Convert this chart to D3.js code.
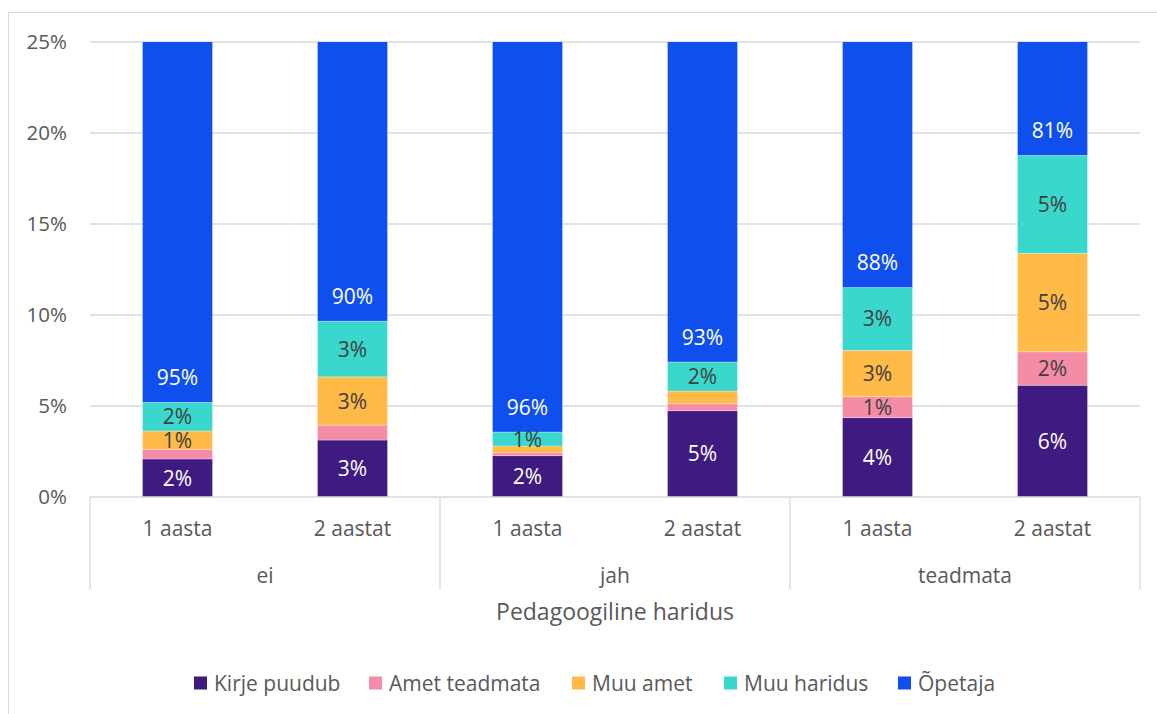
<!DOCTYPE html>
<html>
<head>
<meta charset="utf-8">
<script src="https://cdn.jsdelivr.net/npm/d3@7"></script>
<style>
  body { margin: 0; background: #fff; }
  text { font-family: "Open Sans", sans-serif; }
</style>
</head>
<body>
<svg id="chart"></svg>
<script>
const width = 1157;
const height = 714;

// Data (shares of 1)
const groups = ["ei", "jah", "teadmata"];
const subgroups = ["1 aasta", "2 aastat"];
const seriesNames = ["Kirje puudub", "Amet teadmata", "Muu amet", "Muu haridus", "Õpetaja"];
const kirjePuudub = [0.0209, 0.0313, 0.0227, 0.0474, 0.0436, 0.0614];
const ametTeadmata = [0.0053, 0.0082, 0.0016, 0.0038, 0.0115, 0.0184];
const muuAmet = [0.0101, 0.0265, 0.0037, 0.0070, 0.0255, 0.0541];
const muuHaridus = [0.0157, 0.0306, 0.0077, 0.0160, 0.0345, 0.0538];
const opetaja = [0.9480, 0.9033, 0.9643, 0.9258, 0.8849, 0.8123];
const yTicks = [0, 0.05, 0.10, 0.15, 0.20, 0.25];
// labels that are not shown in the original: [series index, bar index]
const hiddenLabels = [[1, 0], [1, 1], [1, 2], [1, 3], [2, 2], [2, 3]];

const colors = ["#3f1a80", "#f48ca8", "#ffba47", "#3ad8cc", "#0f4fee"];
const labelColors = ["#ffffff", "#404040", "#404040", "#404040", "#ffffff"];

const seriesValues = [kirjePuudub, ametTeadmata, muuAmet, muuHaridus, opetaja];
const bars = [];
groups.forEach((g) => subgroups.forEach((s) => bars.push({ group: g, sub: s })));
const rows = bars.map((b, i) => {
	const row = { id: i, group: b.group, sub: b.sub };
	seriesNames.forEach((name, k) => (row[name] = seriesValues[k][i]));
	return row;
});
const stacked = d3.stack().keys(seriesNames)(rows);

const plot = { left: 90, right: 1140, top: 42, bottom: 497 };
const fontSize = 21;

const svg = d3.select("#chart").attr("width", width).attr("height", height);

// chart area border (runs past the right and bottom edge in the original)
svg.append("rect")
	.attr("x", 8.5).attr("y", 12.5)
	.attr("width", 1200).attr("height", 800)
	.attr("fill", "#fff").attr("stroke", "#d9d9d9");

const x = d3.scaleBand()
	.domain(rows.map((d) => d.id))
	.range([plot.left, plot.right])
	.paddingInner(0.6)
	.paddingOuter(0.3);

const xGroup = d3.scaleBand().domain(groups).range([plot.left, plot.right]);

const y = d3.scaleLinear().domain([0, 0.25]).range([plot.bottom, plot.top]);

// gridlines
svg.append("g")
	.selectAll("line")
	.data(yTicks.slice(1))
	.join("line")
	.attr("x1", plot.left).attr("x2", plot.right)
	.attr("y1", (d) => y(d)).attr("y2", (d) => y(d))
	.attr("stroke", "#d9d9d9").attr("stroke-width", 1.3);

// y tick labels
svg.append("g")
	.selectAll("text")
	.data(yTicks)
	.join("text")
	.attr("x", 67)
	.attr("y", (d) => y(d))
	.attr("dy", "0.36em")
	.attr("text-anchor", "end")
	.attr("font-size", 20.5)
	.attr("fill", "#595959")
	.text((d) => d3.format(".0%")(d));

// bars, clipped at 25 %
svg.append("clipPath").attr("id", "clip")
	.append("rect")
	.attr("x", plot.left).attr("y", plot.top)
	.attr("width", plot.right - plot.left).attr("height", plot.bottom - plot.top);

const layers = svg.append("g").attr("clip-path", "url(#clip)")
	.selectAll("g")
	.data(stacked)
	.join("g")
	.attr("fill", (d, i) => colors[i]);

layers.selectAll("rect")
	.data((d) => d)
	.join("rect")
	.attr("x", (d) => x(d.data.id))
	.attr("width", x.bandwidth())
	.attr("y", (d) => y(d[1]))
	.attr("height", (d) => y(d[0]) - y(d[1]))
	.attr("stroke", "#ffffff").attr("stroke-opacity", 0.35).attr("stroke-width", 0.8);

// data labels
const isHidden = (k, i) => hiddenLabels.some(([a, b]) => a === k && b === i);
const labelData = [];
stacked.forEach((layer, k) => {
	layer.forEach((d, i) => {
		if (isHidden(k, i)) return;
		const top = Math.min(d[1], y.domain()[1]);
		let cy = (y(d[0]) + y(top)) / 2;
		if (d[1] > y.domain()[1]) cy = y(d[0]) - 25;
		labelData.push({ k, cx: x(d.data.id) + x.bandwidth() / 2, cy, v: d[1] - d[0] });
	});
});

svg.append("g")
	.selectAll("text")
	.data(labelData)
	.join("text")
	.attr("x", (d) => d.cx)
	.attr("y", (d) => d.cy)
	.attr("dy", "0.36em")
	.attr("text-anchor", "middle")
	.attr("font-size", fontSize)
	.attr("fill", (d) => labelColors[d.k])
	.text((d) => d3.format(".0%")(d.v));

// category axis
svg.append("line")
	.attr("x1", plot.left).attr("x2", plot.right)
	.attr("y1", plot.bottom).attr("y2", plot.bottom)
	.attr("stroke", "#d9d9d9").attr("stroke-width", 1.3);

const sepX = groups.map((g) => xGroup(g)).concat([plot.right]);
svg.append("g")
	.selectAll("line")
	.data(sepX)
	.join("line")
	.attr("x1", (d) => d).attr("x2", (d) => d)
	.attr("y1", plot.bottom).attr("y2", 590)
	.attr("stroke", "#d9d9d9").attr("stroke-width", 1.3);

svg.append("g")
	.selectAll("text")
	.data(rows)
	.join("text")
	.attr("x", (d) => x(d.id) + x.bandwidth() / 2)
	.attr("y", 528)
	.attr("dy", "0.36em")
	.attr("text-anchor", "middle")
	.attr("font-size", fontSize)
	.attr("fill", "#595959")
	.text((d) => d.sub);

svg.append("g")
	.selectAll("text")
	.data(groups)
	.join("text")
	.attr("x", (d) => xGroup(d) + xGroup.bandwidth() / 2)
	.attr("y", 575)
	.attr("dy", "0.36em")
	.attr("text-anchor", "middle")
	.attr("font-size", fontSize)
	.attr("fill", "#595959")
	.text((d) => d);

svg.append("text")
	.attr("x", (plot.left + plot.right) / 2)
	.attr("y", 612)
	.attr("dy", "0.36em")
	.attr("text-anchor", "middle")
	.attr("font-size", 23)
	.attr("fill", "#595959")
	.text("Pedagoogiline haridus");

// legend
const legendX = [194, 369, 572, 724, 898];
const legend = svg.append("g")
	.selectAll("g")
	.data(seriesNames)
	.join("g")
	.attr("transform", (d, i) => `translate(${legendX[i]},683)`);

legend.append("rect")
	.attr("x", 0).attr("y", -6.5)
	.attr("width", 13).attr("height", 13)
	.attr("fill", (d, i) => colors[i]);

legend.append("text")
	.attr("x", 20)
	.attr("dy", "0.36em")
	.attr("font-size", fontSize)
	.attr("fill", "#595959")
	.text((d) => d);
</script>
</body>
</html>
